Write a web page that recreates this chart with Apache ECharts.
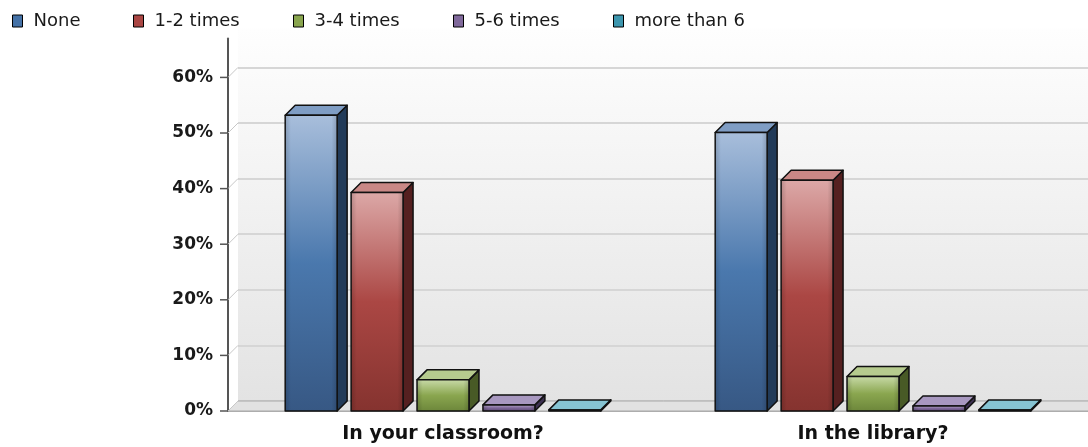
<!DOCTYPE html>
<html>
<head>
<meta charset="utf-8">
<script src="https://cdn.jsdelivr.net/npm/echarts@6/dist/echarts.min.js"></script>
<style>
html, body { margin: 0; padding: 0; background: #fff; }
#chart { width: 1088px; height: 447px; }
</style>
</head>
<body>
<div id="chart"></div>
<script>
var categories = ['In your classroom?', 'In the library?'];
var seriesNames = ['None', '1-2 times', '3-4 times', '5-6 times', 'more than 6'];
var none = [53.2, 50.1];
var times12 = [39.3, 41.5];
var times34 = [5.6, 6.2];
var times56 = [1.1, 0.9];
var moreThan6 = [0.2, 0.2];
var yTicks = [0, 10, 20, 30, 40, 50, 60];

var values = [none, times12, times34, times56, moreThan6];

// [front top, front mid, front bottom, side, top face, legend]
var palette = [
    ['#a8bedb', '#4a78ad', '#375884', '#223b59', '#7f9dc4', '#4572a7'],
    ['#dca8a7', '#ab4744', '#85332f', '#552020', '#c98886', '#aa4643'],
    ['#c7d9a6', '#8aa64f', '#6d873b', '#485a26', '#b6cb8e', '#89a54e'],
    ['#b3a5c8', '#7e6799', '#5e4c75', '#3d3050', '#a898c0', '#80699b'],
    ['#a9d6e0', '#4aa3bb', '#2f7d91', '#20596a', '#86c4d3', '#3d96ae']
];
var legendLeft = [12, 133, 293, 453, 613];
var DEPTH = 10;

function renderBar(params, api) {
    var i = params.seriesIndex;
    var c = palette[i];
    var base = api.coord([api.value(0), 0]);
    var top = api.coord([api.value(0), api.value(1)]);
    var band = api.size([1, 0])[0];
    var step = band * 0.1533;
    var w = band * 0.1208;
    var x0 = base[0] + (i - 2) * step - w / 2;
    var x1 = x0 + w;
    var yb = base[1];
    var yt = Math.min(top[1], yb - 1);
    var d = DEPTH;
    var stroke = { stroke: '#111', lineWidth: 1.5, lineJoin: 'round' };
    return {
        type: 'group',
        children: [
            {
                type: 'polygon',
                shape: { points: [[x1, yt], [x1 + d, yt - d], [x1 + d, yb - d], [x1, yb]] },
                style: Object.assign({ fill: c[3] }, stroke)
            },
            {
                type: 'polygon',
                shape: { points: [[x0, yt], [x0 + d, yt - d], [x1 + d, yt - d], [x1, yt]] },
                style: Object.assign({ fill: c[4] }, stroke)
            },
            {
                type: 'rect',
                shape: { x: x0, y: yt, width: w, height: yb - yt },
                style: {
                    fill: new echarts.graphic.LinearGradient(0, 0, 0, 1, [
                        { offset: 0, color: c[0] },
                        { offset: 0.5, color: c[1] },
                        { offset: 1, color: c[2] }
                    ])
                }
            },
            {
                type: 'rect',
                shape: { x: x0, y: yt, width: w, height: yb - yt },
                style: Object.assign({
                    fill: new echarts.graphic.LinearGradient(0, 0, 1, 0, [
                        { offset: 0, color: 'rgba(0,0,0,0.18)' },
                        { offset: 0.12, color: 'rgba(0,0,0,0)' },
                        { offset: 0.88, color: 'rgba(0,0,0,0)' },
                        { offset: 1, color: 'rgba(0,0,0,0.18)' }
                    ])
                }, stroke)
            }
        ]
    };
}

function renderDecor(params, api) {
    var cs = params.coordSys;
    var y = api.coord([0, api.value(1)])[1];
    var x = cs.x;
    var d = DEPTH;
    var children = [];
    if (params.dataIndex === 0) {
        children.push({
            type: 'polygon',
            shape: { points: [[x, y], [x + d, y - d], [x + cs.width + d, y - d], [x + cs.width, y]] },
            style: { fill: '#e2e2e2', stroke: '#a8a8a8', lineWidth: 1 }
        });
    }
    children.push({
        type: 'line',
        shape: { x1: x, y1: y, x2: x + d, y2: y - d },
        style: { stroke: '#c8c8c8', lineWidth: 1 }
    });
    children.push({
        type: 'line',
        shape: { x1: x - 8, y1: y, x2: x, y2: y },
        style: { stroke: '#555', lineWidth: 1.5 }
    });
    return { type: 'group', children: children };
}

var chart = echarts.init(document.getElementById('chart'));

var series = seriesNames.map(function (name, i) {
    return {
        name: name,
        type: 'custom',
        xAxisIndex: 0,
        yAxisIndex: 0,
        z: 5,
        itemStyle: { color: palette[i][5] },
        encode: { x: 0, y: 1 },
        data: values[i].map(function (v, k) { return [k, v]; }),
        renderItem: renderBar
    };
});
series.push({
    type: 'custom',
    xAxisIndex: 0,
    yAxisIndex: 0,
    z: 3,
    silent: true,
    encode: { x: 0, y: 1 },
    data: yTicks.map(function (v) { return [0, v]; }),
    renderItem: renderDecor
});

var option = {
    backgroundColor: '#fff',
    animation: false,
    legend: seriesNames.map(function (name, i) {
        return {
            data: [name],
            left: legendLeft[i],
            top: 12,
            padding: 0,
            icon: 'rect',
            itemWidth: 10,
            itemHeight: 12,
            selectedMode: false,
            itemStyle: { borderColor: '#000', borderWidth: 1 },
            textStyle: {
                fontFamily: 'DejaVu Sans',
                fontSize: 18,
                color: '#1a1a1a',
                padding: [0, 0, 0, 6]
            }
        };
    }),
    grid: [
        { left: 228, right: 0, top: 38.5, bottom: 36, containLabel: false, outerBoundsMode: 'none' },
        {
            left: 238, right: -10, top: 28.5, bottom: 46, containLabel: false, outerBoundsMode: 'none',
            show: true, borderWidth: 0,
            backgroundColor: {
                type: 'linear', x: 0, y: 0, x2: 0, y2: 1,
                colorStops: [{ offset: 0, color: '#fefefe' }, { offset: 1, color: '#e3e3e3' }]
            }
        }
    ],
    xAxis: [
        {
            type: 'category',
            gridIndex: 0,
            data: categories,
            axisLine: { lineStyle: { color: '#999', width: 1.5 } },
            axisTick: { alignWithLabel: true, length: 7, lineStyle: { color: '#777' } },
            axisLabel: {
                margin: 14,
                fontFamily: 'DejaVu Sans',
                fontWeight: 'bold',
                fontSize: 19,
                color: '#111'
            },
            splitLine: { show: false }
        },
        { type: 'category', gridIndex: 1, data: categories, show: false }
    ],
    yAxis: [
        {
            type: 'value',
            gridIndex: 0,
            min: 0,
            max: 67,
            interval: 10,
            axisLine: { show: true, lineStyle: { color: '#555', width: 2 } },
            axisTick: { show: false },
            splitLine: { show: false },
            axisLabel: {
                showMaxLabel: false,
                margin: 15,
                formatter: '{value}%',
                fontFamily: 'DejaVu Sans',
                fontWeight: 'bold',
                fontSize: 17,
                color: '#1a1a1a'
            }
        },
        {
            type: 'value',
            gridIndex: 1,
            min: 0,
            max: 67,
            interval: 10,
            axisLine: { show: false },
            axisTick: { show: false },
            axisLabel: { show: false },
            splitLine: { show: true, showMaxLine: false, lineStyle: { color: '#d6d6d6', width: 2 } }
        }
    ],
    series: series
};

chart.setOption(option);
</script>
</body>
</html>
